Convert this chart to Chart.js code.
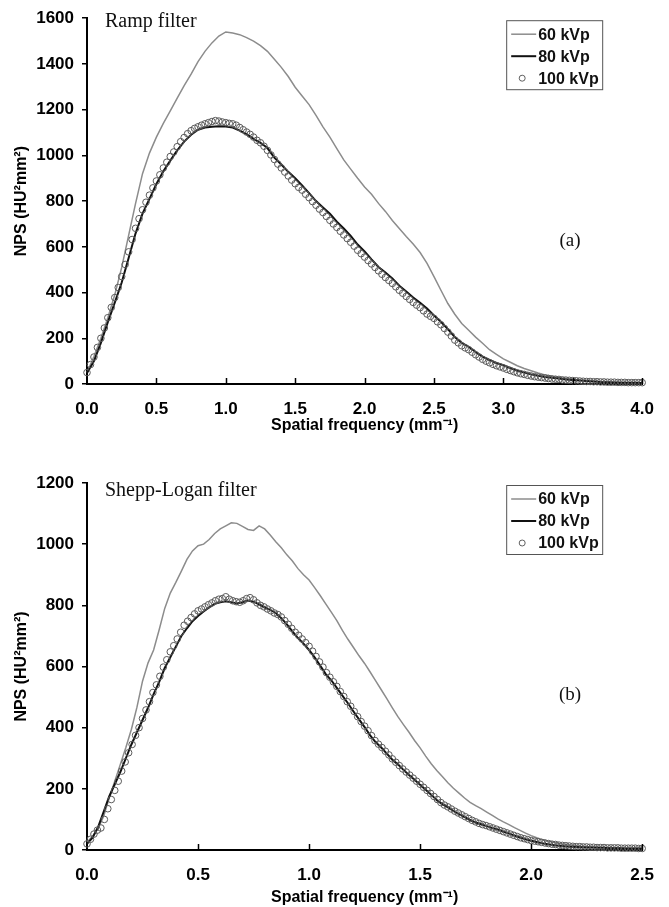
<!DOCTYPE html>
<html>
<head>
<meta charset="utf-8">
<script src="https://cdn.jsdelivr.net/npm/chart.js@4.4.1/dist/chart.umd.min.js"></script>
<style>
html, body { margin: 0; padding: 0; background: #fff; }
canvas { position: absolute; left: 0; }
#rampChart { top: 0; }
#sheppChart { top: 440px; }
</style>
</head>
<body>
<canvas id="rampChart" width="669" height="440"></canvas>
<canvas id="sheppChart" width="669" height="467"></canvas>
<script>
// ---- panel (a): Ramp filter ----
var rampLineStep = 0.05;   // spacing of the 60 / 80 kVp samples (mm^-1)
var rampDotStep = 0.025;   // spacing of the 100 kVp samples
var rampXTicks = [0, 0.5, 1.0, 1.5, 2.0, 2.5, 3.0, 3.5, 4.0];
var rampYTicks = [0, 200, 400, 600, 800, 1000, 1200, 1400, 1600];

var ramp60 = [50,120,200,290,390,510,650,790,920,1010,1080,1140,1195,1250,1305,1355,1410,1455,1492,1522,
  1540,1535,1528,1515,1500,1480,1455,1420,1385,1345,1298,1260,1222,1175,1125,1080,1030,980,940,900,
  862,830,790,755,715,680,645,612,575,528,470,410,352,305,265,235,205,178,150,130,
  110,95,80,68,58,48,40,34,28,24,20,17,14,12,10,9,8,7,6,6,5];

var ramp80 = [48,100,180,270,356,444,551,659,745,810,875,930,977,1022,1060,1090,1112,1122,1125,1127,
  1126,1122,1108,1093,1072,1055,1032,990,960,928,900,868,835,800,772,745,710,680,648,610,
  580,545,512,488,462,430,405,378,355,330,300,272,240,205,180,163,140,120,105,92,
  82,70,58,50,42,36,31,27,24,20,18,15,13,11,9,8,7,6,5,5,4];

var ramp100 = [50,85,118,160,200,245,290,335,378,422,470,523,578,632,681,723,762,795,826,858,
  888,915,945,970,995,1015,1038,1060,1078,1095,1108,1118,1125,1132,1138,1143,1148,1152,1150,1146,
  1143,1140,1138,1132,1122,1112,1102,1092,1080,1066,1055,1040,1022,1002,982,962,945,927,910,892,
  876,860,848,830,815,798,782,765,750,733,716,700,685,668,652,636,620,603,585,570,
  555,540,525,510,495,480,466,453,440,425,410,397,383,370,357,345,334,320,306,296,
  287,272,259,243,227,210,192,180,167,158,150,139,128,118,108,100,93,86,80,75,
  70,64,59,54,49,45,42,38,35,32,30,28,26,24,22,21,20,18,17,16,
  15,14,13,12,11,11,10,10,9,9,8,8,8,7,7,7,6,6,6,6,6];

// ---- panel (b): Shepp-Logan filter ----
var sheppLineStep = 0.025;
var sheppDotStep = 0.015625;
var sheppXTicks = [0, 0.5, 1.0, 1.5, 2.0, 2.5];
var sheppYTicks = [0, 200, 400, 600, 800, 1000, 1200];

var shepp60 = [25,45,70,110,170,225,280,335,395,467,552,612,654,720,790,840,875,912,950,978,
  995,1000,1015,1035,1050,1060,1070,1068,1058,1048,1045,1060,1050,1030,1008,988,965,945,920,900,
  883,858,832,805,778,750,718,689,662,635,610,582,553,524,495,465,436,410,385,358,
  334,307,282,260,240,220,202,186,170,156,145,135,124,113,102,92,83,73,64,55,
  47,40,34,29,25,21,18,16,14,12,11,10,9,8,8,7,7,6,6,6,5];

var shepp80 = [20,40,75,125,175,215,255,300,345,385,425,465,510,550,595,630,665,700,725,748,
  765,780,793,805,810,813,810,806,810,816,812,803,793,785,775,758,738,715,693,675,
  654,630,603,575,555,530,505,480,453,427,402,375,352,335,315,295,280,262,245,230,
  213,197,181,163,150,140,128,117,108,98,90,84,78,72,67,60,54,47,41,35,
  30,26,22,19,16,14,12,11,10,9,8,8,7,7,6,6,6,5,5,5,5];

var shepp100 = [20,35,52,65,72,100,135,165,195,225,258,288,318,345,375,400,430,458,485,515,
  540,568,598,622,648,668,690,712,735,748,760,772,782,788,795,802,808,815,820,822,
  828,820,815,812,810,815,822,825,818,808,800,795,788,782,775,770,762,750,738,725,
  712,702,690,678,666,650,633,615,598,580,565,550,535,518,502,485,470,453,436,420,
  405,390,374,358,346,335,323,311,298,287,276,265,255,245,235,225,215,205,195,185,
  175,165,155,147,141,134,127,121,115,109,103,97,92,87,83,80,76,72,68,64,
  60,56,52,48,44,40,37,34,31,29,27,25,23,21,19,18,16,15,14,13,
  12,11,11,10,10,9,9,8,8,8,7,7,7,7,6,6,6,6,6,5,5];

var seriesNames = ['60 kVp', '80 kVp', '100 kVp'];

function toPoints(step, values) {
    return values.map(function (v, i) {
        return { x: Math.round(i * step * 100000) / 100000, y: v };
    });
}

var panelDecor = {
    id: 'panelDecor',
    afterDraw: function (chart, args, opts) {
        var ctx = chart.ctx;
        var area = chart.chartArea;
        var xs = chart.scales.x;

        ctx.save();
        // tick marks on the x axis point inwards
        ctx.strokeStyle = '#000';
        ctx.lineWidth = 1.5;
        xs.ticks.forEach(function (t) {
            var px = Math.round(xs.getPixelForValue(t.value)) + 0.5;
            if (px < area.left + 2) return;
            ctx.beginPath();
            ctx.moveTo(px, area.bottom);
            ctx.lineTo(px, area.bottom - 6);
            ctx.stroke();
        });

        // legend box
        var bx = area.right - 136, by = area.top + 2, bw = 96, bh = 69;
        ctx.lineWidth = 1;
        ctx.strokeStyle = '#555';
        ctx.strokeRect(bx + 0.5, by + 0.5, bw, bh);
        var rows = [by + 14, by + 36, by + 58];
        ctx.font = 'bold 16px "Liberation Sans", Arial, sans-serif';
        ctx.fillStyle = '#111';
        ctx.textBaseline = 'middle';
        ctx.textAlign = 'left';

        ctx.strokeStyle = '#8c8c8c';
        ctx.lineWidth = 1.5;
        ctx.beginPath(); ctx.moveTo(bx + 5, rows[0]); ctx.lineTo(bx + 30, rows[0]); ctx.stroke();
        ctx.strokeStyle = '#111';
        ctx.lineWidth = 2;
        ctx.beginPath(); ctx.moveTo(bx + 5, rows[1]); ctx.lineTo(bx + 30, rows[1]); ctx.stroke();
        ctx.strokeStyle = '#606060';
        ctx.lineWidth = 1;
        ctx.beginPath(); ctx.arc(bx + 16, rows[2], 3, 0, Math.PI * 2); ctx.stroke();
        for (var i = 0; i < 3; i++) {
            ctx.fillText(seriesNames[i], bx + 32, rows[i] + 1);
        }

        // filter name and panel tag
        ctx.font = '20px "Liberation Serif", "Times New Roman", serif';
        ctx.textBaseline = 'alphabetic';
        ctx.fillText(opts.filterName, area.left + 18, area.top + opts.nameDy);
        ctx.textAlign = 'center';
        ctx.font = '19px "Liberation Serif", "Times New Roman", serif';
        ctx.fillText(opts.tag, 570, area.top + opts.tagDy);
        ctx.restore();
    }
};

function makePanel(canvasId, p) {
    var ctx = document.getElementById(canvasId);
    return new Chart(ctx, {
        type: 'line',
        data: {
            datasets: [{
                label: seriesNames[2],
                data: toPoints(p.dotStep, p.s100),
                showLine: false,
                pointRadius: 3.3,
                pointBorderWidth: 1,
                pointBorderColor: '#5a5a5a',
                pointBackgroundColor: 'rgba(255,255,255,0)',
                order: 0,
                clip: false
            }, {
                label: seriesNames[1],
                data: toPoints(p.lineStep, p.s80),
                borderColor: '#111',
                borderWidth: 2,
                pointRadius: 0,
                order: 1,
                clip: false
            }, {
                label: seriesNames[0],
                data: toPoints(p.lineStep, p.s60),
                borderColor: '#8c8c8c',
                borderWidth: 1.5,
                pointRadius: 0,
                order: 2,
                clip: false
            }]
        },
        options: {
            responsive: false,
            animation: false,
            layout: { padding: { left: 0, right: 26, top: p.padTop, bottom: 0 } },
            plugins: {
                legend: { display: false },
                tooltip: { enabled: false },
                panelDecor: { filterName: p.filterName, tag: p.tag, nameDy: p.nameDy, tagDy: p.tagDy }
            },
            scales: {
                x: {
                    type: 'linear',
                    min: 0,
                    max: p.xTicks[p.xTicks.length - 1],
                    afterBuildTicks: function (scale) {
                        scale.ticks = p.xTicks.map(function (v) { return { value: v }; });
                    },
                    afterFit: function (scale) { scale.height = p.xAxisH; },
                    grid: { display: false, drawTicks: false },
                    border: { display: true, color: '#000', width: 2 },
                    ticks: {
                        padding: 15,
                        color: '#000',
                        font: { size: 17, weight: 'bold' },
                        maxRotation: 0,
                        callback: function (v) { return Number(v).toFixed(1); }
                    },
                    title: {
                        display: true,
                        text: 'Spatial frequency (mm⁻¹)',
                        color: '#000',
                        font: { size: 16, weight: 'bold' },
                        padding: { top: 0, bottom: p.xTitlePad }
                    }
                },
                y: {
                    min: 0,
                    max: p.yTicks[p.yTicks.length - 1],
                    afterBuildTicks: function (scale) {
                        scale.ticks = p.yTicks.map(function (v) { return { value: v }; });
                    },
                    afterFit: function (scale) { scale.width = 87; },
                    grid: { display: true, drawOnChartArea: false, drawTicks: true, tickLength: 5, color: '#000', lineWidth: 1.5 },
                    border: { display: true, color: '#000', width: 2 },
                    ticks: {
                        padding: 8,
                        color: '#000',
                        font: { size: 17, weight: 'bold' },
                        callback: function (v) { return String(v); }
                    },
                    title: {
                        display: true,
                        text: 'NPS (HU²mm²)',
                        color: '#000',
                        font: { size: 16, weight: 'bold' },
                        padding: { top: 12, bottom: 0 }
                    }
                }
            }
        },
        plugins: [panelDecor]
    });
}

Chart.defaults.font.family = '"Liberation Sans", Arial, sans-serif';

makePanel('rampChart', {
    lineStep: rampLineStep, dotStep: rampDotStep,
    s60: ramp60, s80: ramp80, s100: ramp100,
    xTicks: rampXTicks, yTicks: rampYTicks,
    padTop: 17, xAxisH: 56, xTitlePad: 5,
    filterName: 'Ramp filter', tag: '(a)', nameDy: 9, tagDy: 228
});

makePanel('sheppChart', {
    lineStep: sheppLineStep, dotStep: sheppDotStep,
    s60: shepp60, s80: shepp80, s100: shepp100,
    xTicks: sheppXTicks, yTicks: sheppYTicks,
    padTop: 43, xAxisH: 57, xTitlePad: 0,
    filterName: 'Shepp-Logan filter', tag: '(b)', nameDy: 13, tagDy: 217
});
</script>
</body>
</html>
